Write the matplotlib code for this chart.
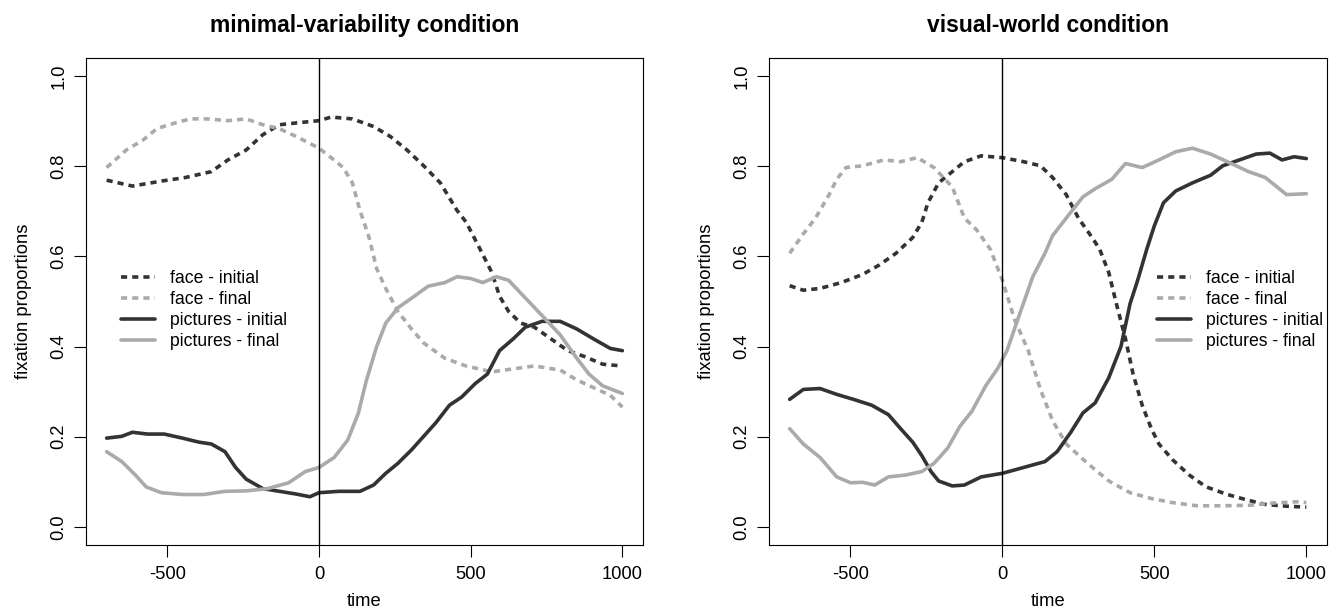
import matplotlib
matplotlib.use("Agg")
import matplotlib.pyplot as plt
import numpy as np

plt.rcParams['font.family'] = ['Liberation Sans', 'DejaVu Sans']
plt.rcParams['axes.unicode_minus'] = False

# ---- minimal-variability condition ----
mv_face_init_t = [-700, -615, -520, -440, -355, -300, -240, -185, -130, -75, 0, 40, 110, 180, 235, 290, 345, 400, 455, 485, 525, 570, 595, 625, 665, 710, 765, 820, 875, 935, 1000]
mv_face_init = [0.769, 0.756, 0.767, 0.775, 0.788, 0.814, 0.836, 0.870, 0.892, 0.896, 0.901, 0.909, 0.905, 0.888, 0.866, 0.836, 0.801, 0.763, 0.702, 0.676, 0.624, 0.564, 0.512, 0.478, 0.452, 0.443, 0.417, 0.391, 0.378, 0.361, 0.357]

mv_face_fin_t = [-700, -635, -580, -535, -495, -425, -370, -300, -240, -185, -130, -75, 0, 40, 80, 110, 135, 165, 190, 220, 260, 305, 345, 415, 485, 570, 655, 710, 795, 850, 905, 960, 1000]
mv_face_fin = [0.797, 0.836, 0.858, 0.883, 0.892, 0.905, 0.905, 0.901, 0.905, 0.892, 0.883, 0.866, 0.840, 0.819, 0.797, 0.763, 0.702, 0.642, 0.573, 0.529, 0.478, 0.439, 0.408, 0.374, 0.357, 0.344, 0.352, 0.357, 0.348, 0.326, 0.309, 0.292, 0.266]

mv_pic_init_t = [-700, -650, -615, -565, -510, -450, -395, -355, -310, -275, -240, -185, -130, -75, -30, 0, 65, 135, 180, 220, 260, 305, 345, 385, 430, 470, 515, 555, 595, 640, 680, 735, 795, 850, 905, 960, 1000]
mv_pic_init = [0.197, 0.201, 0.210, 0.206, 0.206, 0.197, 0.188, 0.184, 0.167, 0.132, 0.106, 0.085, 0.079, 0.073, 0.067, 0.076, 0.079, 0.079, 0.093, 0.119, 0.141, 0.171, 0.201, 0.231, 0.270, 0.288, 0.318, 0.339, 0.391, 0.417, 0.443, 0.456, 0.456, 0.439, 0.417, 0.396, 0.391]

mv_pic_fin_t = [-700, -650, -605, -570, -520, -450, -380, -310, -240, -170, -100, -45, 0, 50, 95, 130, 155, 190, 220, 260, 315, 360, 415, 455, 500, 540, 585, 625, 680, 735, 795, 850, 890, 935, 1000]
mv_pic_fin = [0.167, 0.145, 0.115, 0.089, 0.076, 0.072, 0.072, 0.079, 0.080, 0.085, 0.098, 0.123, 0.132, 0.154, 0.193, 0.253, 0.322, 0.400, 0.452, 0.486, 0.512, 0.534, 0.542, 0.555, 0.551, 0.542, 0.555, 0.547, 0.508, 0.469, 0.426, 0.374, 0.339, 0.313, 0.296]

# ---- visual-world condition ----
vw_face_init_t = [-700, -655, -600, -530, -460, -405, -350, -295, -265, -245, -210, -165, -125, -70, 0, 70, 125, 165, 210, 250, 295, 320, 350, 375, 405, 430, 460, 490, 515, 560, 615, 670, 740, 810, 865, 935, 1000]
vw_face_init = [0.535, 0.525, 0.529, 0.542, 0.560, 0.581, 0.607, 0.642, 0.676, 0.719, 0.763, 0.788, 0.810, 0.823, 0.819, 0.810, 0.801, 0.775, 0.737, 0.685, 0.642, 0.616, 0.564, 0.495, 0.417, 0.339, 0.270, 0.218, 0.184, 0.149, 0.115, 0.089, 0.072, 0.059, 0.050, 0.046, 0.044]

vw_face_fin_t = [-700, -655, -615, -570, -545, -515, -460, -390, -335, -280, -225, -165, -125, -85, -40, 0, 40, 85, 125, 165, 210, 280, 350, 420, 490, 560, 640, 725, 810, 890, 975, 1000]
vw_face_fin = [0.607, 0.650, 0.685, 0.737, 0.771, 0.797, 0.801, 0.814, 0.810, 0.819, 0.797, 0.754, 0.685, 0.659, 0.616, 0.547, 0.460, 0.391, 0.305, 0.236, 0.184, 0.141, 0.102, 0.076, 0.063, 0.054, 0.047, 0.047, 0.048, 0.053, 0.056, 0.054]

vw_pic_init_t = [-700, -655, -600, -545, -490, -430, -375, -335, -295, -265, -235, -210, -165, -125, -70, 0, 70, 140, 180, 225, 265, 305, 350, 390, 420, 445, 475, 500, 530, 570, 625, 685, 725, 780, 835, 880, 920, 960, 1000]
vw_pic_init = [0.283, 0.305, 0.307, 0.294, 0.283, 0.270, 0.249, 0.218, 0.188, 0.158, 0.123, 0.102, 0.091, 0.093, 0.111, 0.119, 0.132, 0.145, 0.167, 0.210, 0.253, 0.275, 0.331, 0.400, 0.495, 0.547, 0.616, 0.668, 0.719, 0.745, 0.763, 0.780, 0.801, 0.814, 0.827, 0.829, 0.814, 0.821, 0.817]

vw_pic_fin_t = [-700, -655, -600, -545, -500, -460, -420, -375, -320, -265, -225, -180, -140, -100, -55, -15, 15, 55, 100, 140, 165, 225, 265, 305, 360, 405, 460, 515, 570, 625, 685, 740, 810, 865, 935, 1000]
vw_pic_fin = [0.218, 0.184, 0.154, 0.111, 0.098, 0.099, 0.093, 0.111, 0.115, 0.123, 0.141, 0.175, 0.223, 0.257, 0.313, 0.352, 0.391, 0.469, 0.555, 0.607, 0.646, 0.698, 0.732, 0.750, 0.771, 0.806, 0.797, 0.814, 0.832, 0.840, 0.827, 0.810, 0.788, 0.775, 0.737, 0.739]

labels = ['face - initial', 'face - final', 'pictures - initial', 'pictures - final']
titles = ['minimal-variability condition', 'visual-world condition']

DARK = '#333333'
LIGHT = '#aaaaaa'
LW = 2.6
DASH = (1.7, 1.4)

fig = plt.figure(figsize=(13.29, 6.11), dpi=100)
W, H = 1329, 611
# axes boxes in pixels: left, right, top, bottom
boxes = [(86, 643, 58, 545), (769, 1327, 58, 545)]
legend_x = [121, 1157]

panels = [
    [(mv_face_init_t, mv_face_init), (mv_face_fin_t, mv_face_fin), (mv_pic_init_t, mv_pic_init), (mv_pic_fin_t, mv_pic_fin)],
    [(vw_face_init_t, vw_face_init), (vw_face_fin_t, vw_face_fin), (vw_pic_init_t, vw_pic_init), (vw_pic_fin_t, vw_pic_fin)],
]
styles = [(DARK, '--'), (LIGHT, '--'), (DARK, '-'), (LIGHT, '-')]

for k, (l, r, t, b) in enumerate(boxes):
    ax = fig.add_axes([l / W, (H - b) / H, (r - l) / W, (b - t) / H])
    for (tt, vv), (col, ls), lab in zip(panels[k], styles, labels):
        line, = ax.plot(tt, vv, color=col, lw=LW, ls=ls, label=lab,
                        solid_capstyle='round', solid_joinstyle='round')
        if ls == '--':
            line.set_dashes(DASH)
    ax.axvline(0, color='black', lw=1.0)
    ax.set_xlim(-768, 1068)
    ax.set_ylim(-0.04, 1.04)
    ax.set_xticks([-500, 0, 500, 1000])
    ax.set_yticks([0.0, 0.2, 0.4, 0.6, 0.8, 1.0])
    ax.set_yticklabels(['0.0', '0.2', '0.4', '0.6', '0.8', '1.0'])
    ax.tick_params(direction='out', length=8.4, width=0.8, labelsize=13.2)
    ax.tick_params(axis='x', pad=7)
    ax.tick_params(axis='y', pad=5)
    for lbl in ax.get_yticklabels():
        lbl.set_rotation(90)
        lbl.set_va('center')
    for sp in ax.spines.values():
        sp.set_linewidth(0.8)
    ax.set_xlabel('time', fontsize=13.2, labelpad=7)
    ax.set_ylabel('fixation proportions', fontsize=13.2, labelpad=13)
    ax.set_title(titles[k], fontsize=16.5, fontweight='bold', pad=19)
    ax.legend(loc='upper left', bbox_to_anchor=((legend_x[k] - l) / (r - l), (b - 270) / (b - t)),
              frameon=False, fontsize=12.7, handlelength=1.95, handletextpad=0.85,
              labelspacing=0.23, borderpad=0, borderaxespad=0)

fig.savefig('out.png', dpi=100)
